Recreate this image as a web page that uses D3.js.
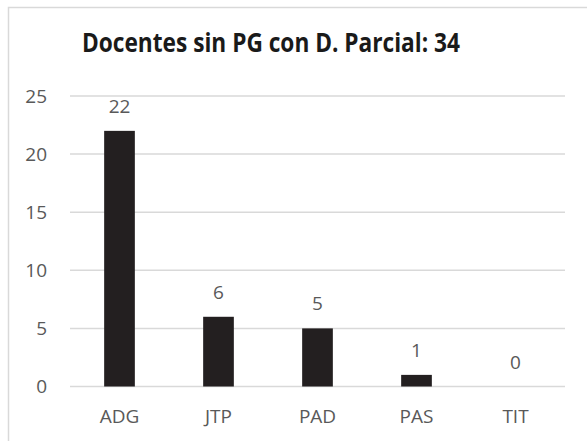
<!DOCTYPE html>
<html>
<head>
    <title>Docentes sin PG con D. Parcial</title>
    <style>
        body { margin: 0; background: #fff; }
        svg { display: block; }
        .grid line { stroke: #d9d9d9; stroke-width: 1.5px; }
        .label { font-family: "Open Sans", sans-serif; font-size: 19px; fill: #595959; }
    </style>
</head>
<body>
    <svg id="chart" width="587" height="441"></svg>
    <script src="https://d3js.org/d3.v7.min.js"></script>
    <script>
        // Data
        const categories = ["ADG", "JTP", "PAD", "PAS", "TIT"];
        const values = [22, 6, 5, 1, 0];
        const yTicks = [0, 5, 10, 15, 20, 25];
        const title = "Docentes sin PG con D. Parcial: 34";

        const svg = d3.select("#chart");

        // Chart border (cropped at right and bottom)
        svg.append("rect")
            .attr("x", 8.5).attr("y", 7.5)
            .attr("width", 600).attr("height", 460)
            .attr("fill", "#fff")
            .attr("stroke", "#d9d9d9")
            .attr("stroke-width", 1.5);

        // Scales
        const x = d3.scaleBand()
            .domain(categories)
            .range([70, 565])
            .paddingInner(0.69)
            .paddingOuter(0.345);

        const y = d3.scaleLinear()
            .domain([0, 25])
            .range([386.5, 96]);

        // Gridlines
        svg.append("g")
            .attr("class", "grid")
            .selectAll("line")
            .data(yTicks)
            .enter().append("line")
            .attr("x1", 70)
            .attr("x2", 565)
            .attr("y1", d => y(d))
            .attr("y2", d => y(d));

        // Y tick labels
        svg.append("g")
            .selectAll("text")
            .data(yTicks)
            .enter().append("text")
            .attr("class", "label")
            .attr("x", 47)
            .attr("y", d => y(d))
            .attr("dy", "0.36em")
            .attr("text-anchor", "end")
            .text(d => d);

        // Bars
        const data = categories.map((c, i) => ({cat: c, value: values[i]}));
        svg.append("g")
            .selectAll("rect")
            .data(data)
            .enter().append("rect")
            .attr("x", d => x(d.cat))
            .attr("y", d => y(d.value))
            .attr("width", x.bandwidth())
            .attr("height", d => y(0) - y(d.value))
            .attr("fill", "#231f20");

        // Value labels
        svg.append("g")
            .selectAll("text")
            .data(data)
            .enter().append("text")
            .attr("class", "label")
            .attr("x", d => x(d.cat) + x.bandwidth() / 2)
            .attr("y", d => y(d.value) - 18)
            .attr("text-anchor", "middle")
            .text(d => d.value);

        // Category labels
        svg.append("g")
            .selectAll("text")
            .data(categories)
            .enter().append("text")
            .attr("class", "label")
            .attr("x", d => x(d) + x.bandwidth() / 2)
            .attr("y", 423)
            .attr("text-anchor", "middle")
            .text(d => d);

        // Title
        svg.append("text")
            .attr("x", 82)
            .attr("y", 52)
            .attr("textLength", 378)
            .attr("lengthAdjust", "spacingAndGlyphs")
            .attr("font-family", "'Open Sans', sans-serif")
            .attr("font-weight", "bold")
            .attr("font-size", 27)
            .attr("fill", "#1a1a1a")
            .text(title);
    </script>
</body>
</html>
